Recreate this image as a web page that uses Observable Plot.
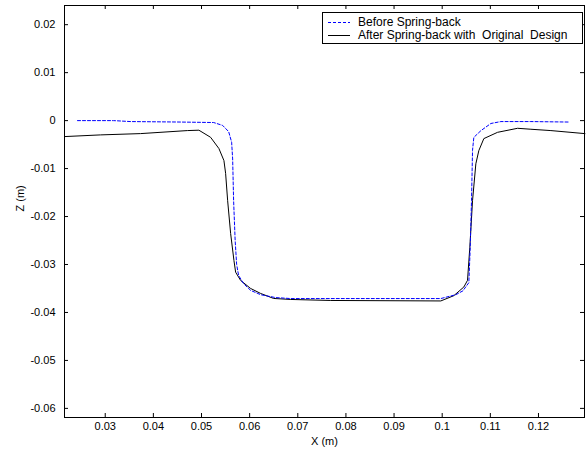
<!DOCTYPE html>
<html><head><meta charset="utf-8">
<script src="https://cdn.jsdelivr.net/npm/d3@7"></script>
<script src="https://cdn.jsdelivr.net/npm/@observablehq/plot@0.6"></script>
<style>
body{margin:0;background:#fff;font-family:"Liberation Sans",Arial,sans-serif;}
#wrap{position:relative;width:587px;height:452px;}
#legend{position:absolute;left:322px;top:12px;width:259px;height:30px;border:1px solid #000;background:#fff;font-size:12px;color:#000;}
.row{position:absolute;left:0;height:13px;line-height:13px;}
.row svg{position:absolute;left:5px;top:0;}
.row span{position:absolute;left:35px;white-space:nowrap;}
</style></head>
<body><div id="wrap"><div id="legend">
<div class="row" style="top:3px"><svg width="24" height="13"><line x1="0" x2="22" y1="6.5" y2="6.5" stroke="#0000ff" stroke-dasharray="3,2"/></svg><span>Before Spring-back</span></div>
<div class="row" style="top:16px"><svg width="24" height="13"><line x1="0" x2="22" y1="6.5" y2="6.5" stroke="#000"/></svg><span>After Spring-back with&nbsp; Original&nbsp; Design</span></div>
</div></div>
<script>
const beforeX = [0.02424,0.03173,0.03526,0.04566,0.05252,0.05439,0.05564,0.05626,0.05647,0.05667,0.05699,0.05730,0.05771,0.05875,0.06021,0.06229,0.06541,0.06853,0.09971,0.10283,0.10429,0.10553,0.10580,0.10609,0.10630,0.10657,0.10803,0.11011,0.11219,0.11842,0.12632];
const beforeZ = [0,0,-0.0002,-0.0003,-0.0004,-0.0010,-0.0023,-0.0045,-0.0080,-0.0167,-0.0250,-0.0300,-0.0323,-0.0340,-0.0354,-0.0363,-0.0369,-0.0371,-0.0371,-0.0363,-0.0355,-0.0338,-0.0271,-0.0167,-0.0062,-0.0035,-0.0021,-0.0006,-0.0002,-0.0002,-0.0003];
const afterX = [0.02154,0.02902,0.03734,0.04705,0.04946,0.05189,0.05362,0.05466,0.05501,0.05543,0.05605,0.05674,0.05709,0.05813,0.06021,0.06229,0.06499,0.06853,0.07685,0.09971,0.10241,0.10449,0.10526,0.10574,0.10630,0.10699,0.10761,0.10865,0.11150,0.11566,0.11842,0.12258,0.12965];
const afterZ = [-0.00333,-0.00298,-0.00271,-0.00208,-0.00200,-0.00348,-0.00583,-0.00833,-0.0110,-0.0167,-0.02354,-0.02917,-0.0316,-0.03333,-0.0350,-0.03604,-0.03708,-0.03729,-0.0375,-0.0376,-0.0365,-0.0347,-0.0333,-0.0264,-0.0167,-0.0090,-0.00625,-0.00375,-0.00244,-0.0016,-0.0018,-0.00208,-0.00271];
const xTicks = [0.03,0.04,0.05,0.06,0.07,0.08,0.09,0.1,0.11,0.12];
const zTicks = [-0.06,-0.05,-0.04,-0.03,-0.02,-0.01,0,0.01,0.02];
const xLabel = "X (m)", zLabel = "Z (m)";

const before = beforeX.map((x,i)=>({x, z: beforeZ[i]}));
const after = afterX.map((x,i)=>({x, z: afterZ[i]}));
const fmt = d => String(+d.toFixed(2));
const W = 587, H = 452, mL = 64, mR = 3, mT = 5, mB = 35;

const chart = Plot.plot({
  width: W, height: H,
  marginLeft: mL, marginRight: mR, marginTop: mT, marginBottom: mB,
  style: {fontFamily: '"Liberation Sans", Arial, sans-serif', fontSize: "11px", color: "#000", background: "#fff"},
  x: {domain: [0.02154, 0.12956]},
  y: {domain: [-0.0619, 0.024]},
  marks: [
    Plot.frame({stroke: "#000"}),
    Plot.axisX(xTicks, {anchor: "bottom", tickSize: -4, tickPadding: 9, tickFormat: fmt, label: null}),
    Plot.tickX(xTicks, {x: d => d, stroke: "#000", insetBottom: H - mT - mB - 4}),
    Plot.axisY(zTicks, {anchor: "left", tickSize: -4, tickPadding: 13, tickFormat: fmt, label: null}),
    Plot.tickY(zTicks, {y: d => d, stroke: "#000", insetLeft: W - mL - mR - 4}),
    Plot.line(after, {x: "x", y: "z", stroke: "#000", strokeWidth: 1}),
    Plot.line(before, {x: "x", y: "z", stroke: "#0000ff", strokeWidth: 1, strokeDasharray: "3,2"}),
    Plot.text([xLabel], {frameAnchor: "bottom", dy: 27, text: d => d, fontSize: 11}),
    Plot.text([zLabel], {frameAnchor: "left", dx: -44, rotate: -90, text: d => d, fontSize: 11})
  ]
});
document.getElementById("wrap").prepend(chart);
</script></body></html>
